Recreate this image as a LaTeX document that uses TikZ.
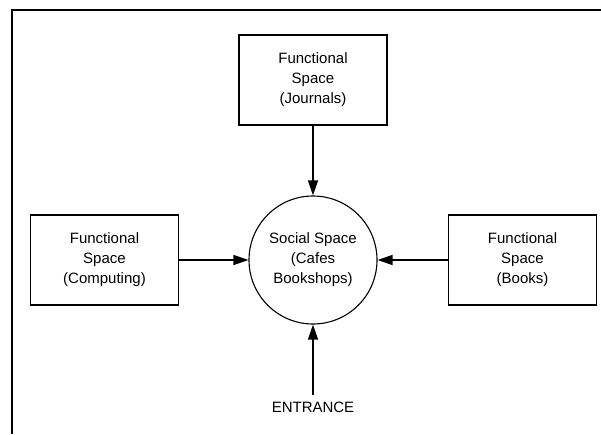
\documentclass[tikz,border=0pt]{standalone}
\usepackage{fontspec}
\setmainfont{Liberation Sans}
\usepackage{tikz}
\usetikzlibrary{arrows.meta,positioning}

\begin{document}
\begin{tikzpicture}[x=1pt,y=-1pt,>={Triangle[length=15pt,width=10pt]},
                    font=\fontsize{15}{20}\selectfont,semithick]

  \tikzstyle{func}=[draw,rectangle,minimum width=148pt,minimum height=90pt,
                    align=center,inner sep=0pt,line width=1.3pt]
  \tikzstyle{social}=[draw,circle,minimum size=128pt,align=center,
                      inner sep=0pt,line width=1.1pt]

  \useasboundingbox (0,0) rectangle (601,434);
  \draw[line width=2pt] (12,434) -- (12,10) -- (601,10);

  \node[social]                     (soc) at (313,260)      {Social Space\\(Cafes\\Bookshops)};
  \node[func, node distance=180pt]  (jour) [above of=soc]  {Functional\\Space\\(Journals)};
  \node[func, node distance=208.5pt] (comp) [left of=soc]  {Functional\\Space\\(Computing)};
  \node[func, node distance=209.5pt] (book) [right of=soc] {Functional\\Space\\(Books)};
  \node[inner sep=6pt, node distance=147pt] (ent) [below of=soc] {ENTRANCE};

  \path[->,line width=1.4pt]
        (jour) edge (soc)
        (comp) edge (soc)
        (book) edge (soc)
        (ent)  edge (soc);
\end{tikzpicture}
\end{document}
